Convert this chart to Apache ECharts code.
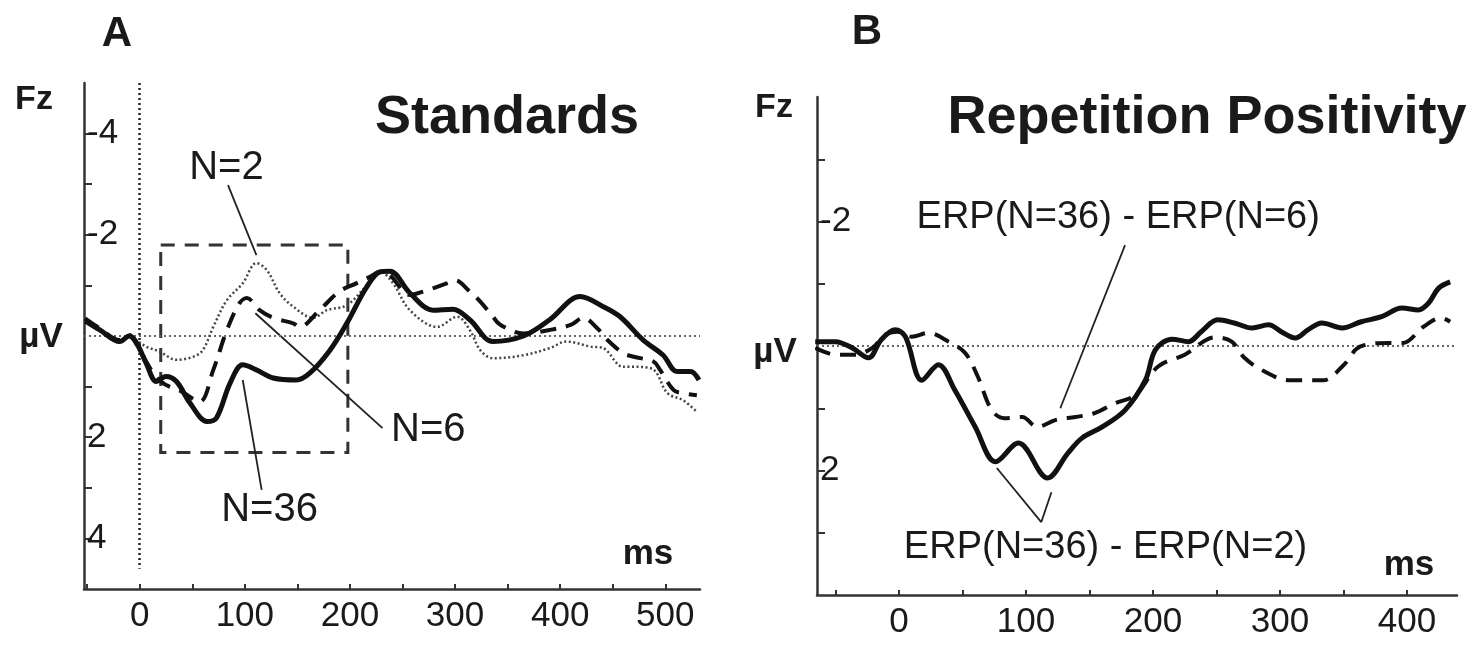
<!DOCTYPE html>
<html>
<head>
<meta charset="utf-8">
<script src="https://cdn.jsdelivr.net/npm/echarts@6/dist/echarts.min.js"></script>
<style>
  html, body { margin: 0; padding: 0; background: #fff; }
  #chart { width: 1479px; height: 646px; }
</style>
</head>
<body>
<div id="chart"></div>
<script>
// panel A: ERPs to standards at Fz, points are [ms, µV]
const standardsN36 = [[-52,-0.3],[-38,-0.12],[-19,0.11],[-10,0.0],[-2,0.18],[6,0.53],[16,0.9],[25,0.8],[35,0.9],[48,1.33],[64,1.69],[73,1.62],[86,0.93],[98,0.57],[111,0.67],[127,0.83],[149,0.87],[162,0.73],[181,0.28],[197,-0.25],[216,-0.97],[229,-1.27],[238,-1.28],[257,-0.85],[279,-0.51],[298,-0.53],[314,-0.32],[336,0.11],[365,0.0],[390,-0.32],[419,-0.78],[441,-0.58],[457,-0.38],[479,0.08],[498,0.38],[511,0.7],[524,0.7],[532,0.87]];
const standardsN6 = [[-52,-0.35],[-38,-0.15],[-19,0.08],[-10,-0.02],[-2,0.15],[6,0.5],[20,0.9],[40,1.1],[57,1.3],[70,0.67],[83,-0.12],[95,-0.65],[102,-0.75],[114,-0.51],[127,-0.36],[146,-0.25],[152,-0.18],[171,-0.51],[190,-0.88],[206,-1.04],[219,-1.17],[229,-1.27],[238,-1.2],[257,-0.81],[270,-0.88],[292,-1.04],[300,-1.1],[314,-0.88],[324,-0.68],[336,-0.38],[343,-0.22],[365,-0.05],[390,-0.12],[410,-0.22],[422,-0.36],[435,-0.16],[445,0.08],[460,0.34],[470,0.41],[489,0.51],[495,0.67],[508,1.07],[517,1.13],[530,1.17]];
const standardsN2 = [[-52,-0.3],[-38,-0.1],[-19,0.1],[-10,0.0],[-2,0.1],[6,0.21],[19,0.31],[35,0.47],[51,0.41],[60,0.28],[70,-0.18],[83,-0.71],[98,-1.04],[111,-1.44],[121,-1.3],[133,-0.85],[146,-0.58],[165,-0.36],[178,-0.51],[197,-0.61],[216,-1.0],[229,-1.27],[241,-1.04],[257,-0.51],[283,-0.18],[302,-0.38],[314,-0.12],[324,0.28],[336,0.44],[365,0.38],[390,0.24],[406,0.11],[429,0.21],[441,0.24],[460,0.61],[473,0.61],[489,0.67],[502,1.13],[517,1.27],[530,1.5]];

// panel B: difference waves (repetition positivity)
const diff36minus2 = [[-66,-0.07],[-50,-0.07],[-37,0.03],[-24,0.19],[-14,-0.1],[-3,-0.26],[5,-0.15],[18,0.55],[31,0.3],[44,0.71],[60,1.3],[76,1.86],[94,1.56],[117,2.12],[133,1.72],[144,1.48],[160,1.3],[178,1.03],[194,0.55],[202,0.06],[215,-0.11],[228,-0.07],[238,-0.23],[251,-0.42],[264,-0.37],[278,-0.29],[291,-0.34],[301,-0.23],[312,-0.13],[322,-0.26],[333,-0.37],[349,-0.29],[364,-0.39],[380,-0.47],[396,-0.61],[409,-0.58],[417,-0.69],[425,-0.93],[434,-1.03]];
const diff36minus6 = [[-66,0.03],[-50,0.14],[-35,0.14],[-21,0.03],[-11,-0.18],[-1,-0.23],[10,-0.15],[23,-0.21],[39,-0.07],[52,0.11],[62,0.49],[73,1.03],[83,1.16],[97,1.14],[109,1.3],[123,1.19],[139,1.14],[154,1.08],[170,0.92],[186,0.79],[204,0.33],[225,0.14],[249,-0.14],[262,-0.07],[272,0.19],[286,0.39],[307,0.55],[334,0.55],[350,0.31],[363,0.01],[387,-0.05],[397,-0.05],[413,-0.31],[427,-0.45],[434,-0.39]];

// axis ticks
const xLabelsA = [0, 100, 200, 300, 400, 500];
const xTicksA = [-50, 0, 50, 100, 150, 200, 250, 300, 350, 400, 450, 500];
const yLabelsA = [-4, -2, 2, 4];
const yTicksA = [-4, -3, -2, -1, 1, 2, 3, 4];
const xLabelsB = [0, 100, 200, 300, 400];
const xTicksB = [-50, 0, 50, 100, 150, 200, 250, 300, 350, 400];
const yLabelsB = [-2, 2];
const yTicksB = [-3, -2, -1, 1, 2, 3];

// annotations (data coords)
const notesA = [
  { text: "N=2", at: [83, -3.32] },
  { text: "N=6", at: [275, 1.86] },
  { text: "N=36", at: [124, 3.44] }
];
const leadersA = [
  [[84, -2.98], [111, -1.6]],
  [[110, -0.45], [231, 1.82]],
  [[98, 0.87], [116, 3.04]]
];
const boxA = [[20, -1.8], [198, 2.3]];
const notesB = [
  { text: "ERP(N=36) - ERP(N=6)", at: [173, -2.06] },
  { text: "ERP(N=36) - ERP(N=2)", at: [163, 3.24] }
];
const leadersB = [
  [[178, -1.62], [127, 1.0]],
  [[77, 1.96], [112, 2.83]],
  [[120, 2.35], [112, 2.83]]
];

const FONT = '"Liberation Sans", Arial, sans-serif';
const INK = "#1a1a1a";

const chart = echarts.init(document.getElementById("chart"));

function xAxisFor(grid, min, max, labels, ticks) {
  return {
    gridIndex: grid, type: "value", min: min, max: max,
    axisLine: { onZero: false, lineStyle: { color: "#333", width: 2.5 } },
    axisTick: { show: true, inside: true, length: 5, customValues: ticks, lineStyle: { color: "#333", width: 2 } },
    axisLabel: { customValues: labels, fontSize: 35, color: INK, fontFamily: FONT, margin: 10 },
    splitLine: { show: false }
  };
}

function yAxisFor(grid, min, max, labels, ticks) {
  return {
    gridIndex: grid, type: "value", inverse: true, min: min, max: max,
    axisLine: { show: true, onZero: false, lineStyle: { color: "#333", width: 2.5 } },
    axisTick: { show: true, inside: true, length: 8, customValues: ticks, lineStyle: { color: "#333", width: 2 } },
    axisLabel: { inside: true, customValues: labels, fontSize: 35, color: INK, fontFamily: FONT, margin: 3 },
    splitLine: { show: false }
  };
}

function wave(idx, data, style) {
  return {
    type: "line", xAxisIndex: idx, yAxisIndex: idx, data: data,
    showSymbol: false, smooth: 0.35, z: 5, silent: true,
    lineStyle: style
  };
}

function segments(list) {
  return list.map(l => [{ coord: l[0] }, { coord: l[1] }]);
}

function notesSeries(idx, notes, leaders, zeroLines, fontSize, extra) {
  return Object.assign({
    type: "scatter", xAxisIndex: idx, yAxisIndex: idx, clip: false, silent: true,
    symbolSize: 1, itemStyle: { color: "#fff", opacity: 1 }, z: 8,
    data: notes.map(n => ({ name: n.text, value: n.at })),
    label: {
      show: true, position: [0, 0], align: "center", verticalAlign: "middle",
      formatter: "{b}", fontSize: fontSize, color: INK, fontFamily: FONT,
      textBorderWidth: 0, opacity: 1
    },
    markLine: {
      silent: true, symbol: ["none", "none"], label: { show: false }, animation: false,
      lineStyle: { color: "#222", width: 1.8, type: "solid" },
      data: segments(leaders).concat(zeroLines)
    }
  }, extra || {});
}

const zeroA = [
  [{ coord: [0, -5], lineStyle: { color: "#222", width: 2.5, type: [2, 3] } }, { coord: [0, 4.6] }],
  [{ coord: [-53, 0], lineStyle: { color: "#666", width: 2, type: [2, 3] } }, { coord: [533, 0] }]
];
const zeroB = [
  [{ coord: [0, -4.22], lineStyle: { color: "#222", width: 2.5, type: [2, 3] } }, { coord: [0, 3.7] }],
  [{ coord: [-64.6, 0], lineStyle: { color: "#666", width: 2, type: [2, 3] } }, { coord: [439.4, 0] }]
];

function txt(s, x, y, font) {
  return { type: "text", x: x, y: y, z: 10, style: { text: s, font: font, fill: INK, align: "center", verticalAlign: "middle" } };
}

const option = {
  animation: false,
  backgroundColor: "#fff",
  grid: [
    { left: 84, top: 83, width: 616, height: 506, outerBoundsMode: "none", containLabel: false },
    { left: 817, top: 97, width: 640, height: 498, outerBoundsMode: "none", containLabel: false }
  ],
  xAxis: [
    xAxisFor(0, -53, 533, xLabelsA, xTicksA),
    xAxisFor(1, -64.6, 439.4, xLabelsB, xTicksB)
  ],
  yAxis: [
    yAxisFor(0, -5, 5, yLabelsA, yTicksA),
    yAxisFor(1, -4, 4, yLabelsB, yTicksB)
  ],
  series: [
    wave(0, standardsN2, { color: "#444", width: 2.5, type: [2, 2.5] }),
    wave(0, standardsN6, { color: "#111", width: 4, type: [16, 10] }),
    wave(0, standardsN36, { color: "#111", width: 5 }),
    notesSeries(0, notesA, leadersA, zeroA, 40, {
      markArea: {
        silent: true, label: { show: false },
        itemStyle: { color: "rgba(0,0,0,0)", borderColor: "#333", borderWidth: 3, borderType: [14, 10] },
        data: [[{ coord: boxA[0] }, { coord: boxA[1] }]]
      }
    }),
    wave(1, diff36minus6, { color: "#111", width: 4, type: [16, 10] }),
    wave(1, diff36minus2, { color: "#111", width: 5 }),
    notesSeries(1, notesB, leadersB, zeroB, 38)
  ],
  graphic: [
    txt("A", 117, 34, "bold 42px " + FONT),
    txt("B", 867, 32, "bold 42px " + FONT),
    txt("Standards", 507, 118, "bold 54px " + FONT),
    txt("Repetition Positivity", 1207, 118, "bold 54px " + FONT),
    txt("Fz", 34, 100, "bold 34px " + FONT),
    txt("\u00b5V", 41, 337, "bold 35px " + FONT),
    txt("ms", 648, 554, "bold 35px " + FONT),
    txt("Fz", 774, 108, "bold 34px " + FONT),
    txt("\u00b5V", 775, 352, "bold 35px " + FONT),
    txt("ms", 1409, 565, "bold 35px " + FONT)
  ]
};

chart.setOption(option);
</script>
</body>
</html>
